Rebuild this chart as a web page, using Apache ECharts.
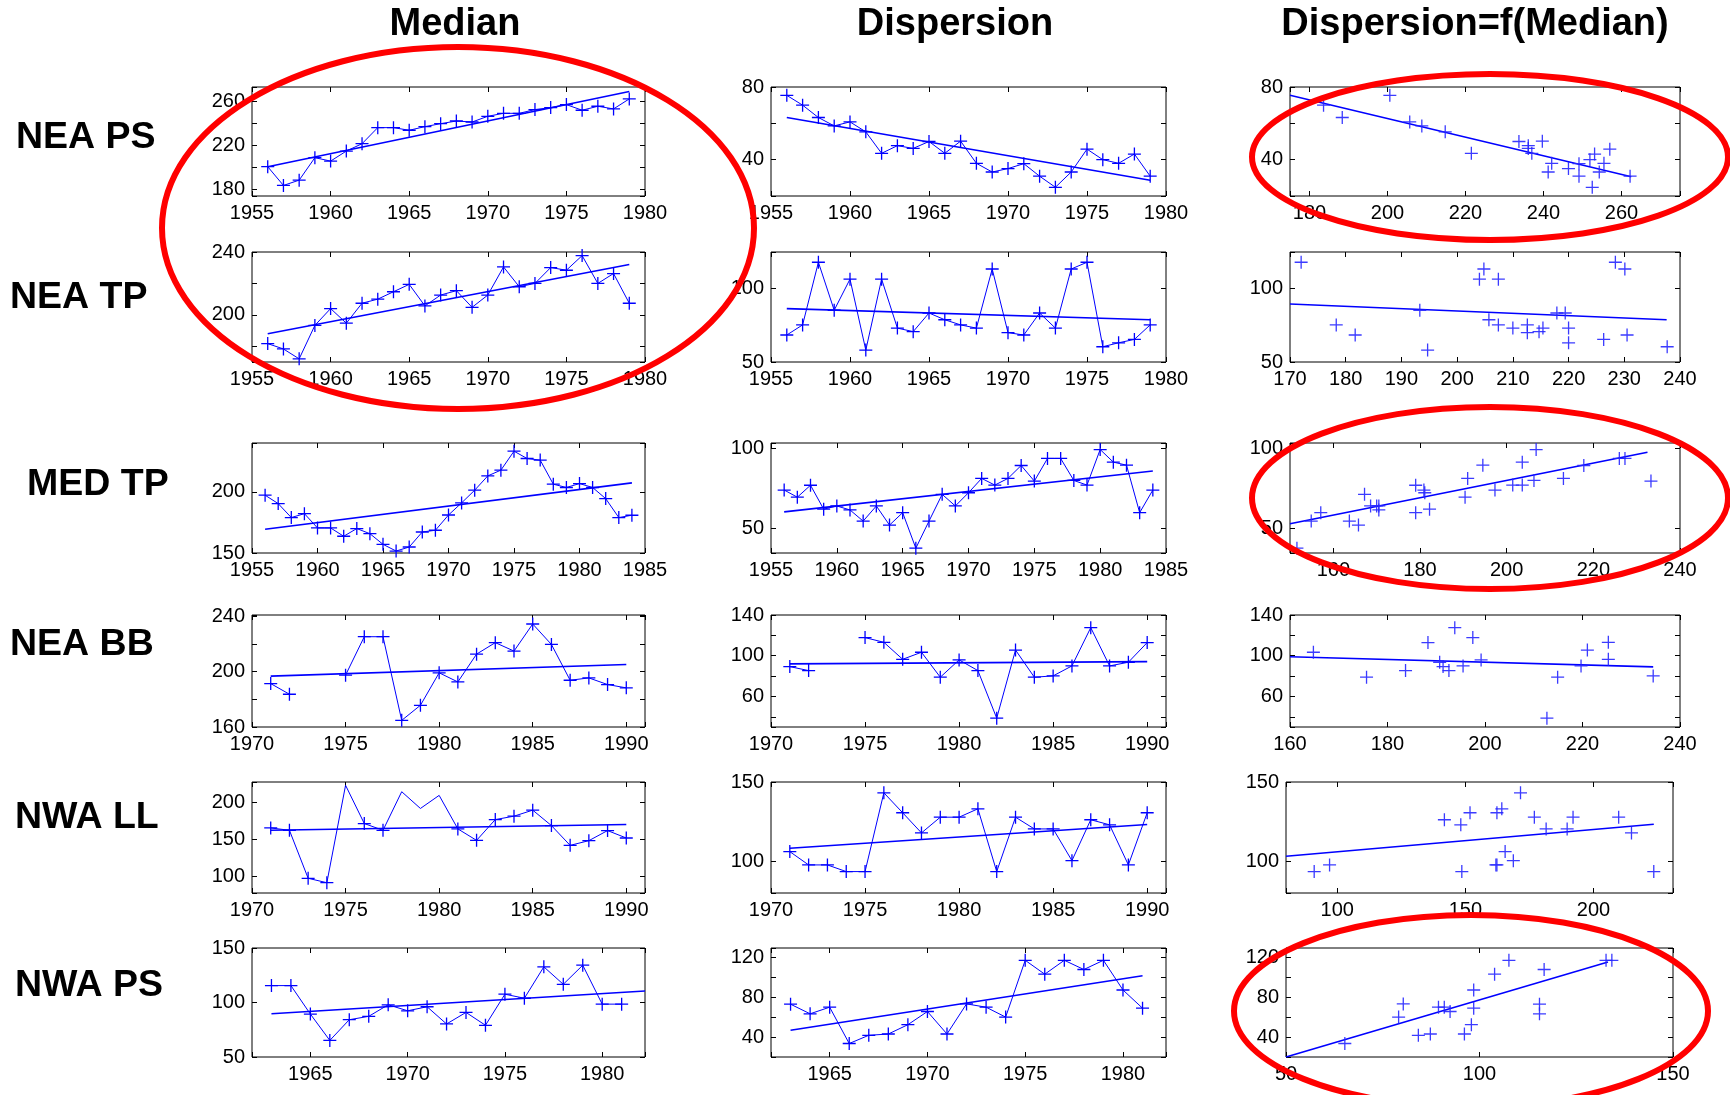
<!DOCTYPE html>
<html>
<head>
<meta charset="utf-8">
<script src="https://cdn.jsdelivr.net/npm/echarts@6/dist/echarts.min.js"></script>
<style>
  html, body { margin: 0; padding: 0; background: #fff; }
  #chart { width: 1730px; height: 1095px; }
</style>
</head>
<body>
<div id="chart"></div>
<script>
// ---------------- data ----------------
// NEA PS
const neaPsYears = [1956,1957,1958,1959,1960,1961,1962,1963,1964,1965,1966,1967,1968,1969,1970,1971,1972,1973,1974,1975,1976,1977,1978,1979];
const neaPsMedian = [200.6,183.6,188.4,208.8,205.7,214.8,221.5,236.1,236.1,233.7,237.0,239.7,242.1,241.2,246.4,249.1,249.1,252.5,254.3,257.0,251.9,255.5,253.1,262.2];
const neaPsDisp = [75.4,70.0,63.2,58.6,60.8,55.3,43.5,47.7,46.2,50.0,43.5,50.2,38.0,33.2,35.1,37.8,30.9,24.8,33.2,45.8,40.0,38.0,43.1,30.9];
const neaPsMedianTrend = [[1956,200.6],[1979,268.9]];
const neaPsDispTrend = [[1956,63.2],[1979,28.7]];
const neaPsFitTrend = [[175,75.5],[262.5,30.6]];

// NEA TP
const neaTpYears = [1956,1957,1958,1959,1960,1961,1962,1963,1964,1965,1966,1967,1968,1969,1970,1971,1972,1973,1974,1975,1976,1977,1978,1979];
const neaTpMedian = [181.7,178.3,172.0,193.3,204.0,194.7,207.4,210.0,214.7,219.4,205.7,212.6,215.4,204.8,212.6,230.5,217.9,220.0,230.1,228.4,237.7,220.0,226.3,207.4];
const neaTpDisp = [68.4,75.3,118.0,85.3,106.5,58.1,106.5,73.1,70.7,83.4,78.8,75.3,73.1,113.4,70.0,68.4,83.4,73.1,113.4,118.0,60.4,63.1,65.4,75.3];
const neaTpMedianTrend = [[1956,188.0],[1979,232.0]];
const neaTpDispTrend = [[1956,86.4],[1979,78.8]];
const neaTpFitTrend = [[170,89.5],[237.6,78.8]];

// MED TP
const medTpYears = [1956,1957,1958,1959,1960,1961,1962,1963,1964,1965,1966,1967,1968,1969,1970,1971,1972,1973,1974,1975,1976,1977,1978,1979,1980,1981,1982,1983,1984];
const medTpMedian = [197.3,190.4,179.0,182.2,170.5,170.5,163.7,170.0,165.8,157.1,151.6,154.9,167.2,168.6,181.1,191.0,201.4,213.1,217.8,233.3,227.3,226.0,206.3,203.6,206.8,203.6,194.5,179.0,180.9];
const medTpDisp = [74.0,69.5,77.0,62.0,64.0,61.5,54.5,64.0,52.0,59.8,37.5,54.5,71.3,64.0,72.3,81.3,77.1,81.3,89.4,79.6,93.8,93.8,80.0,77.1,99.4,91.5,89.6,59.8,74.0];
const medTpMedianTrend = [[1956,169.4],[1984,207.4]];
const medTpDispTrend = [[1956,60.3],[1984,85.9]];
const medTpFitTrend = [[150,52.9],[232.5,97.7]];

// NEA BB (no values for 1973 and 1974)
const neaBbYears = [1971,1972,1973,1974,1975,1976,1977,1978,1979,1980,1981,1982,1983,1984,1985,1986,1987,1988,1989,1990];
const neaBbMedian = [191.4,183.7,null,null,197.5,225.3,225.3,164.8,175.7,199.2,192.6,212.7,221.0,214.9,234.5,219.7,193.8,195.5,190.7,188.3];
const neaBbDisp = [89.3,85.4,null,null,117.8,113.2,96.5,103.4,78.9,95.9,85.4,38.7,105.6,78.9,80.2,90.0,127.6,90.0,93.6,112.9];
const neaBbMedianTrend = [[1971,196.8],[1990,205.2]];
const neaBbDispTrend = [[1971,92.0],[1990,94.2]];
const neaBbFitTrend = [[160,99.0],[234.5,89.1]];

// NWA LL
const nwaLlYears = [1971,1972,1973,1974,1975,1976,1977,1978,1979,1980,1981,1982,1983,1984,1985,1986,1987,1988,1989,1990];
const nwaLlMedian = [165.5,162.3,97.0,91.0,223.5,171.5,162.3,214.8,192.0,209.8,164.2,148.6,176.9,181.5,189.7,168.7,141.8,148.2,161.9,151.8];
const nwaLlMedianUnmarked = [1975,1978,1979,1980];
const nwaLlDisp = [106.1,97.7,97.7,93.5,93.5,143.2,130.6,117.9,127.8,127.8,133.1,93.5,127.8,120.4,120.4,100.4,126.2,123.0,97.7,130.6];
const nwaLlMedianTrend = [[1971,162.3],[1990,170.1]];
const nwaLlDispTrend = [[1971,108.2],[1990,123.2]];
const nwaLlFitTrend = [[80,103.2],[223.5,123.4]];

// NWA PS
const nwaPsYears = [1963,1964,1965,1966,1967,1968,1969,1970,1971,1972,1973,1974,1975,1976,1977,1978,1979,1980,1981];
const nwaPsMedian = [115.5,115.5,89.4,65.2,84.2,87.3,97.9,92.4,96.1,80.3,90.9,79.1,107.6,103.9,132.7,116.7,134.2,98.5,98.5];
const nwaPsDisp = [72.8,63.2,69.8,33.5,41.7,43.0,52.3,65.5,43.0,73.1,69.8,59.9,116.7,102.8,116.7,107.5,116.7,87.0,68.8];
const nwaPsMedianTrend = [[1963,89.7],[1982.2,110.6]];
const nwaPsDispTrend = [[1963,46.7],[1981,101.2]];
const nwaPsFitTrend = [[50,20.0],[133.2,115.0]];

// tick labels
const years55to80 = [1955,1960,1965,1970,1975,1980];
const years55to85 = [1955,1960,1965,1970,1975,1980,1985];
const years70to90 = [1970,1975,1980,1985,1990];
const years65to80 = [1965,1970,1975,1980];

// ---------------- layout & style ----------------
const BLUE = '#0000ff';
const PLUS = 'path://M0,5.85h13v1.3h-13z M5.85,0h1.3v13h-1.3z';
const FONT = '"Liberation Sans", Arial, sans-serif';

const colLeft = { median: 252, disp: 771, fit: 1290 };
const colWidth = { median: 393, disp: 395, fit: 390 };
const rowBox = [[87,109],[252,110],[443,110],[615,112],[782,111],[948,109]];

const option = {
  animation: false,
  backgroundColor: '#ffffff',
  grid: [], xAxis: [], yAxis: [], series: [], graphic: []
};

function axisDef(dim, gi, a, main) {
  return {
    type: 'value', gridIndex: gi, min: a.min, max: a.max,
    minInterval: a.step, maxInterval: a.step, splitNumber: 5,
    position: dim === 'x' ? (main ? 'bottom' : 'top') : (main ? 'left' : 'right'),
    splitLine: { show: false },
    axisLine: { show: false, onZero: false },
    axisTick: { show: true, inside: true, length: 5, lineStyle: { color: '#000', width: 1 } },
    axisLabel: main ? {
      show: true, fontSize: 20, color: '#000', fontFamily: FONT, margin: 7,
      formatter: v => a.labels.indexOf(Math.round(v * 1000) / 1000) >= 0 ? String(v) : ''
    } : { show: false }
  };
}

function addGrid(col, row, xa, ya, narrow) {
  const gi = option.grid.length;
  let left = colLeft[col], width = colWidth[col];
  if (col === 'fit' && narrow) { left = 1286; width = 387; }
  option.grid.push({
    left: left, top: rowBox[row][0], width: width, height: rowBox[row][1],
    show: true, borderColor: '#000', borderWidth: 1, backgroundColor: 'transparent'
  });
  const xi = option.xAxis.length, yi = option.yAxis.length;
  option.xAxis.push(axisDef('x', gi, xa, true), axisDef('x', gi, xa, false));
  option.yAxis.push(axisDef('y', gi, ya, true), axisDef('y', gi, ya, false));
  return { xi, yi };
}

function addSeriesPanel(ax, years, values, trend, unmarked) {
  option.series.push({
    type: 'line', xAxisIndex: ax.xi, yAxisIndex: ax.yi,
    data: years.map((yr, i) => {
      if (values[i] == null) return [yr, '-'];
      const item = { value: [yr, values[i]] };
      if (unmarked && unmarked.indexOf(yr) >= 0) item.symbol = 'none';
      return item;
    }),
    symbol: PLUS, symbolSize: 13, connectNulls: false,
    itemStyle: { color: BLUE },
    lineStyle: { color: BLUE, width: 1 },
    z: 3
  });
  option.series.push({
    type: 'line', xAxisIndex: ax.xi, yAxisIndex: ax.yi,
    data: trend, symbol: 'none',
    lineStyle: { color: BLUE, width: 1.6 }, z: 2
  });
}

function addFitPanel(ax, medians, disps, trend) {
  const pts = [];
  medians.forEach((m, i) => { if (m != null && disps[i] != null) pts.push([m, disps[i]]); });
  option.series.push({
    type: 'scatter', xAxisIndex: ax.xi, yAxisIndex: ax.yi,
    data: pts, symbol: PLUS, symbolSize: 13,
    itemStyle: { color: '#2626ff', opacity: 0.9 }, z: 3
  });
  option.series.push({
    type: 'line', xAxisIndex: ax.xi, yAxisIndex: ax.yi,
    data: trend, symbol: 'none',
    lineStyle: { color: BLUE, width: 1.6 }, z: 2
  });
}

function addRow(row, cfg) {
  const m = addGrid('median', row, cfg.yearAxis, cfg.medAxis);
  addSeriesPanel(m, cfg.years, cfg.median, cfg.medTrend, cfg.unmarked);
  const d = addGrid('disp', row, cfg.dispYearAxis || cfg.yearAxis, cfg.dispAxis);
  addSeriesPanel(d, cfg.years, cfg.disp, cfg.dispTrend);
  const f = addGrid('fit', row, cfg.fitXAxis, cfg.dispAxis, row >= 4);
  addFitPanel(f, cfg.median, cfg.disp, cfg.fitTrend);
}

addRow(0, {
  years: neaPsYears, median: neaPsMedian, disp: neaPsDisp,
  medTrend: neaPsMedianTrend, dispTrend: neaPsDispTrend, fitTrend: neaPsFitTrend,
  yearAxis: { min: 1955, max: 1980, step: 5, labels: years55to80 },
  medAxis: { min: 174, max: 273, step: 20, labels: [180, 220, 260] },
  dispAxis: { min: 20, max: 80, step: 20, labels: [40, 80] },
  fitXAxis: { min: 175, max: 275, step: 20, labels: [180, 200, 220, 240, 260] }
});
addRow(1, {
  years: neaTpYears, median: neaTpMedian, disp: neaTpDisp,
  medTrend: neaTpMedianTrend, dispTrend: neaTpDispTrend, fitTrend: neaTpFitTrend,
  yearAxis: { min: 1955, max: 1980, step: 5, labels: years55to80 },
  medAxis: { min: 170, max: 240, step: 20, labels: [200, 240] },
  dispAxis: { min: 50, max: 125, step: 50, labels: [50, 100] },
  fitXAxis: { min: 170, max: 240, step: 10, labels: [170, 180, 190, 200, 210, 220, 230, 240] }
});
addRow(2, {
  years: medTpYears, median: medTpMedian, disp: medTpDisp,
  medTrend: medTpMedianTrend, dispTrend: medTpDispTrend, fitTrend: medTpFitTrend,
  yearAxis: { min: 1955, max: 1985, step: 5, labels: years55to85 },
  medAxis: { min: 150, max: 240, step: 50, labels: [150, 200] },
  dispAxis: { min: 34.5, max: 103.5, step: 50, labels: [50, 100] },
  fitXAxis: { min: 150, max: 240, step: 20, labels: [160, 180, 200, 220, 240] }
});
addRow(3, {
  years: neaBbYears, median: neaBbMedian, disp: neaBbDisp,
  medTrend: neaBbMedianTrend, dispTrend: neaBbDispTrend, fitTrend: neaBbFitTrend,
  yearAxis: { min: 1970, max: 1991, step: 5, labels: years70to90 },
  medAxis: { min: 160, max: 241, step: 20, labels: [160, 200, 240] },
  dispAxis: { min: 30, max: 140, step: 20, labels: [60, 100, 140] },
  fitXAxis: { min: 160, max: 240, step: 20, labels: [160, 180, 200, 220, 240] }
});
addRow(4, {
  years: nwaLlYears, median: nwaLlMedian, disp: nwaLlDisp, unmarked: nwaLlMedianUnmarked,
  medTrend: nwaLlMedianTrend, dispTrend: nwaLlDispTrend, fitTrend: nwaLlFitTrend,
  yearAxis: { min: 1970, max: 1991, step: 5, labels: years70to90 },
  medAxis: { min: 77, max: 228, step: 50, labels: [100, 150, 200] },
  dispAxis: { min: 80, max: 150, step: 50, labels: [100, 150] },
  fitXAxis: { min: 80, max: 231, step: 50, labels: [100, 150, 200] }
});
addRow(5, {
  years: nwaPsYears, median: nwaPsMedian, disp: nwaPsDisp,
  medTrend: nwaPsMedianTrend, dispTrend: nwaPsDispTrend, fitTrend: nwaPsFitTrend,
  yearAxis: { min: 1962, max: 1982.2, step: 5, labels: years65to80 },
  medAxis: { min: 50, max: 150, step: 50, labels: [50, 100, 150] },
  dispAxis: { min: 20, max: 129, step: 20, labels: [40, 80, 120] },
  fitXAxis: { min: 50, max: 150, step: 50, labels: [50, 100, 150] }
});

// column headings and row names
const headings = [['Median', 455], ['Dispersion', 955], ['Dispersion=f(Median)', 1475]];
headings.forEach(h => option.graphic.push({
  type: 'text', x: h[1], y: 25, z: 50,
  style: { text: h[0], font: 'bold 38px ' + FONT, fill: '#000', textAlign: 'center', textVerticalAlign: 'middle' }
}));
const rowNames = [['NEA PS', 16, 138], ['NEA TP', 10, 298], ['MED TP', 27, 485], ['NEA BB', 10, 645], ['NWA LL', 15, 818], ['NWA PS', 15, 986]];
rowNames.forEach(r => option.graphic.push({
  type: 'text', x: r[1], y: r[2], z: 50,
  style: { text: r[0], font: 'bold 37.5px ' + FONT, fill: '#000', textAlign: 'left', textVerticalAlign: 'middle' }
}));

// red highlight rings
const rings = [[458, 228, 296, 181], [1490, 157, 238, 83], [1490, 498, 238, 91], [1471, 1011, 237, 96]];
rings.forEach(r => option.graphic.push({
  type: 'ellipse', z: 100, silent: true,
  shape: { cx: r[0], cy: r[1], rx: r[2], ry: r[3] },
  style: { fill: 'transparent', stroke: '#ff0000', lineWidth: 6 }
}));

const chart = echarts.init(document.getElementById('chart'), null, { renderer: 'canvas' });
chart.setOption(option);
</script>
</body>
</html>
